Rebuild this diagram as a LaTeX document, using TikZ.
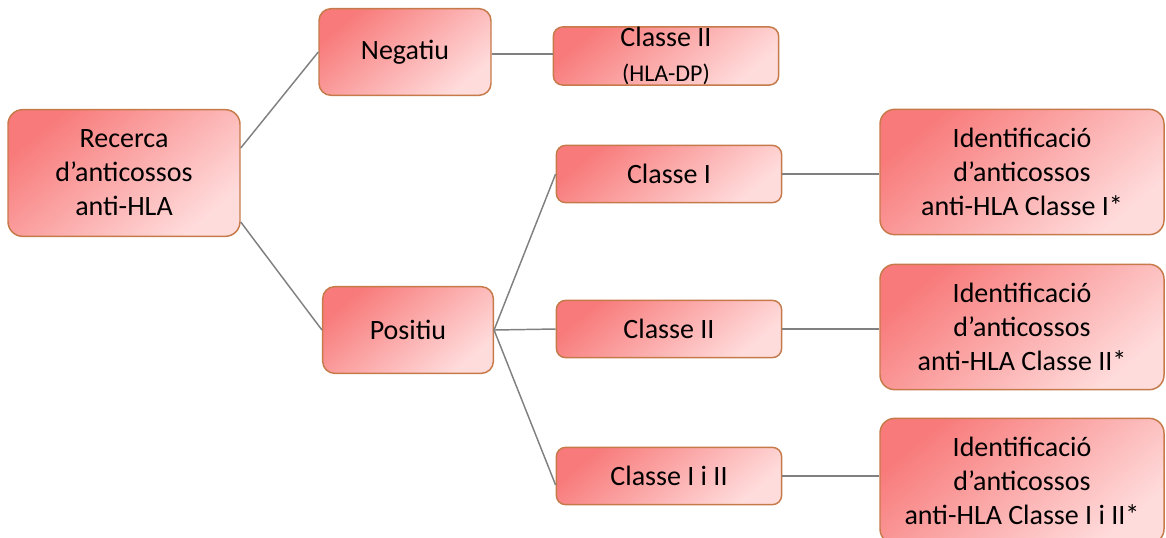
\documentclass[tikz,border=0pt]{standalone}
\usepackage{fontspec}
\setmainfont{Carlito}
\usepackage{tikz}

\definecolor{boxtop}{RGB}{248,122,122}
\definecolor{boxbot}{RGB}{255,220,220}
\definecolor{boxline}{RGB}{198,122,74}
\definecolor{linkgray}{RGB}{128,128,128}

\tikzset{
	box/.style={draw=boxline, line width=1.1pt, rounded corners=11pt,
		top color=boxtop, bottom color=boxbot, shading angle=40,
		inner sep=0pt, align=center, text=black,
		font=\fontsize{21}{25.5}\selectfont},
	link/.style={draw=linkgray, line width=1.1pt}
}

\begin{document}
\begin{tikzpicture}[x=0.75pt, y=-0.75pt]
	\useasboundingbox (0,0) rectangle (1166,537);
	%first level
	\node[box, minimum width=174pt, minimum height=95pt] (rec) at (124,173) {Recerca\\d’anticossos\\anti-HLA};
	%second level
	\node[box, minimum width=129pt, minimum height=65pt, rounded corners=9pt] (neg) at (405,52) {Negatiu};
	\node[box, minimum width=128pt, minimum height=65pt, rounded corners=9pt] (pos) at (408,330) {Positiu};
	%third level
	\node[box, minimum width=169pt, minimum height=43pt, rounded corners=7pt] (dp) at (666,56) {Classe II\\[1pt]{\fontsize{18}{20}\selectfont (HLA-DP)}};
	\node[box, minimum width=169pt, minimum height=43pt, rounded corners=7pt] (c1) at (669,174) {Classe I};
	\node[box, minimum width=169pt, minimum height=43pt, rounded corners=7pt] (c2) at (669,329) {Classe II};
	\node[box, minimum width=169pt, minimum height=43pt, rounded corners=7pt] (c12) at (669,476) {Classe I i II};
	%identification
	\node[box, minimum width=213pt, minimum height=94pt] (id1) at (1022,172) {Identificació\\d’anticossos\\anti-HLA Classe I*};
	\node[box, minimum width=213pt, minimum height=94pt] (id2) at (1022,327) {Identificació\\d’anticossos\\anti-HLA Classe II*};
	\node[box, minimum width=213pt, minimum height=94pt] (id3) at (1022,481) {Identificació\\d’anticossos\\anti-HLA Classe I i II*};
	%connectors
	\draw[link] ([yshift=18.75pt]rec.east) -- (neg.west);
	\draw[link] ([yshift=-36.75pt]rec.east) -- (pos.west);
	\draw[link] ([yshift=-1.5pt]neg.east) -- ([yshift=-1.5pt]neg.east -| dp.west);
	\draw[link] (pos.east) -- (c1.west);
	\draw[link] (pos.east) -- (c2.west);
	\draw[link] (pos.east) -- ([yshift=-6.75pt]c12.west);
	\draw[link] (c1.east) -- (c1.east -| id1.west);
	\draw[link] (c2.east) -- (c2.east -| id2.west);
	\draw[link] (c12.east) -- (c12.east -| id3.west);
\end{tikzpicture}
\end{document}
